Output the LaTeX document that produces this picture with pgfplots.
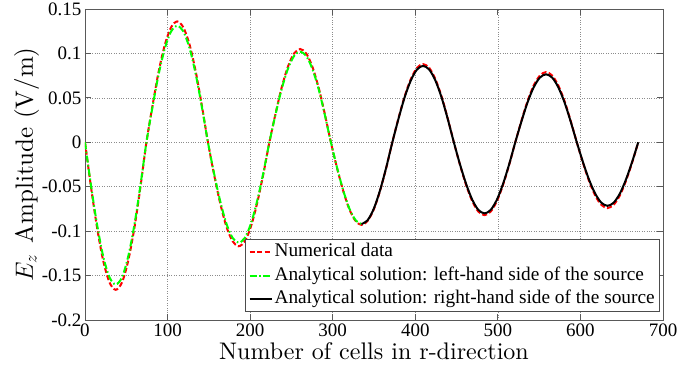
\documentclass[border=0pt]{standalone}
\usepackage{fontspec}
\setmainfont{lmroman10-regular}[Extension=.otf, ItalicFont=lmroman10-italic]
\usepackage{pgfplots}
\pgfplotsset{compat=1.18}
\newfontfamily\timesf{Liberation Serif}
\begin{document}
\begin{tikzpicture}
\begin{axis}[
 scale only axis, width=578pt, height=311pt,
 xmin=0, xmax=700, ymin=-0.2, ymax=0.15,
 xtick={0,100,200,300,400,500,600,700},
 xticklabels={0,100,200,300,400,500,600,700},
 ytick={-0.2,-0.15,-0.1,-0.05,0,0.05,0.1,0.15},
 yticklabels={-0.2,-0.15,-0.1,-0.05,0,0.05,0.1,0.15},
 ticklabel style={font=\timesf\fontsize{19}{22}\selectfont},
 grid=major, grid style={dotted, black!45, line width=0.7pt},
 axis line style={black!65, line width=0.8pt},
 major tick length=6pt, tick style={black!65, line width=0.8pt},
 xlabel={Number of cells in r-direction},
 ylabel={$E_z$\hspace{0.45em}Amplitude (V/m)},
 xlabel style={font=\fontsize{24}{28}\selectfont, at={(axis description cs:0.5,-0.1286)}, anchor=base},
 ylabel style={font=\fontsize{25}{28}\selectfont, at={(axis description cs:-0.090,0.5)}, anchor=base},
 legend cell align=left,
 legend image code/.code={\draw[#1] (0pt,0pt) -- (22pt,0pt);},
 legend style={at={(1,0)}, anchor=south east, xshift=-3pt, yshift=8pt,
   font=\timesf\fontsize{19.3}{22}\selectfont, draw=black!70, line width=0.8pt,
   inner xsep=3pt, inner ysep=1pt, row sep=0pt,
   nodes={inner xsep=2pt, inner ysep=2.6pt, text height=13.6pt, text depth=4.6pt}},
]
\addplot[red, line width=2pt, dash pattern=on 5pt off 2.5pt, smooth] coordinates {
(0,0) (7.4,-0.0513) (14.9,-0.0976) (22.3,-0.1343) (29.8,-0.1579) (37.2,-0.166) (44.7,-0.1579) (52.1,-0.1343) (59.6,-0.0976) (67.0,-0.0513) (74.4,0)
(81.9,0.0420) (89.3,0.0800) (96.8,0.1100) (104.2,0.1293) (111.7,0.136) (119.1,0.1293) (126.6,0.1100) (134.0,0.0800) (141.4,0.0420) (148.9,0)
(156.3,-0.0362) (163.8,-0.0688) (171.2,-0.0947) (178.7,-0.1113) (186.1,-0.117) (193.6,-0.1113) (201.0,-0.0947) (208.4,-0.0688) (215.9,-0.0362) (223.3,0)
(230.8,0.0324) (238.2,0.0617) (245.7,0.0849) (253.1,0.0999) (260.6,0.105) (268.0,0.0999) (275.4,0.0849) (282.9,0.0617) (290.3,0.0324) (297.8,0)
(305.2,-0.0287) (312.7,-0.0547) (320.1,-0.0752) (327.6,-0.0884) (335.0,-0.093) (342.4,-0.0884) (349.9,-0.0752) (357.3,-0.0547) (364.8,-0.0287) (372.2,0)
(379.7,0.0272) (387.1,0.0517) (394.6,0.0712) (402.0,0.0837) (409.4,0.088) (416.9,0.0837) (424.3,0.0712) (431.8,0.0517) (439.2,0.0272) (446.7,0)
(454.1,-0.0253) (461.6,-0.0482) (469.0,-0.0663) (476.4,-0.0780) (483.9,-0.082) (491.3,-0.0780) (498.8,-0.0663) (506.2,-0.0482) (513.7,-0.0253) (521.1,0)
(528.6,0.0244) (536.0,0.0465) (543.4,0.0639) (550.9,0.0751) (558.3,0.079) (565.8,0.0751) (573.2,0.0639) (580.7,0.0465) (588.1,0.0244) (595.6,0)
(603.0,-0.0229) (610.4,-0.0435) (617.9,-0.0599) (625.3,-0.0704) (632.8,-0.074) (640.2,-0.0704) (647.7,-0.0599) (655.1,-0.0435) (662.6,-0.0229) (670.0,0)
};
\addlegendentry{Numerical data}
\addplot[green, line width=2pt, dash pattern=on 7pt off 2.5pt on 1.5pt off 2.5pt, smooth] coordinates {
(0,0) (7.4,-0.0494) (14.9,-0.0941) (22.3,-0.1294) (29.8,-0.1522) (37.2,-0.160) (44.7,-0.1522) (52.1,-0.1294) (59.6,-0.0941) (67.0,-0.0494) (74.4,0)
(81.9,0.0405) (89.3,0.0770) (96.8,0.1060) (104.2,0.1246) (111.7,0.131) (119.1,0.1246) (126.6,0.1060) (134.0,0.0770) (141.4,0.0405) (148.9,0)
(156.3,-0.0349) (163.8,-0.0664) (171.2,-0.0914) (178.7,-0.1075) (186.1,-0.113) (193.6,-0.1075) (201.0,-0.0914) (208.4,-0.0664) (215.9,-0.0349) (223.3,0)
(230.8,0.0315) (238.2,0.0600) (245.7,0.0825) (253.1,0.0970) (260.6,0.102) (268.0,0.0970) (275.4,0.0825) (282.9,0.0600) (290.3,0.0315) (297.8,0)
(305.2,-0.0284) (312.7,-0.0541) (320.1,-0.0744) (327.6,-0.0875) (335.0,-0.092)
};
\addlegendentry{Analytical solution: left-hand side of the source}
\addplot[black, line width=2pt, smooth] coordinates {
(335.0,-0.092) (342.4,-0.0875) (349.9,-0.0744) (357.3,-0.0541) (364.8,-0.0284) (372.2,0)
(379.7,0.0266) (387.1,0.0506) (394.6,0.0696) (402.0,0.0818) (409.4,0.086) (416.9,0.0818) (424.3,0.0696) (431.8,0.0506) (439.2,0.0266) (446.7,0)
(454.1,-0.0247) (461.6,-0.0470) (469.0,-0.0647) (476.4,-0.0761) (483.9,-0.080) (491.3,-0.0761) (498.8,-0.0647) (506.2,-0.0470) (513.7,-0.0247) (521.1,0)
(528.6,0.0236) (536.0,0.0450) (543.4,0.0619) (550.9,0.0728) (558.3,0.0765) (565.8,0.0728) (573.2,0.0619) (580.7,0.0450) (588.1,0.0236) (595.6,0)
(603.0,-0.0221) (610.4,-0.0420) (617.9,-0.0578) (625.3,-0.0680) (632.8,-0.0715) (640.2,-0.0680) (647.7,-0.0578) (655.1,-0.0420) (662.6,-0.0221) (670.0,0)
};
\addlegendentry{Analytical solution: right-hand side of the source}
\end{axis}
\pgfresetboundingbox
\useasboundingbox (-85pt,-52pt) rectangle (594pt,320pt);
\end{tikzpicture}
\end{document}
